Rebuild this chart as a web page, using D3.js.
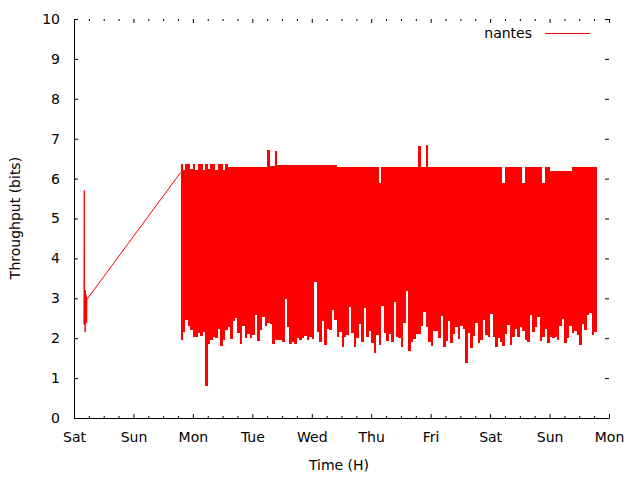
<!DOCTYPE html>
<html>
<head>
<meta charset="utf-8">
<script src="https://cdn.jsdelivr.net/npm/d3@7"></script>
<style>
  html, body { margin: 0; padding: 0; background: #ffffff; }
  svg { display: block; }
  text { font-family: "DejaVu Sans", sans-serif; font-size: 14px; fill: #000; }
</style>
</head>
<body>
<script>
// ---------------- data ----------------
const dayLabels = ["Sat", "Sun", "Mon", "Tue", "Wed", "Thu", "Fri", "Sat", "Sun", "Mon"];
const yTickValues = [0, 1, 2, 3, 4, 5, 6, 7, 8, 9, 10];
const seriesName = "nantes";

// Saturday burst and the gap line (hours since Sat 00:00, throughput)
const satHours  = [4.00, 4.15, 4.25, 4.40, 4.50, 4.60, 4.70, 4.80, 4.90, 5.00, 5.10, 5.20, 43.0];
const satValues = [2.35, 5.70, 2.33, 3.10, 2.15, 3.20, 2.40, 3.10, 2.38, 3.05, 2.40, 2.97, 6.15];

// Hourly samples (min / max) from Sun 19:00 onwards
const weekStartHour = 43;
const weekLow = [
  1.95, 2.16, 2.46, 2.30, 2.20, 2.04, 2.04, 2.12, 2.06, 2.16,
  0.80, 1.85, 1.95, 2.04, 2.00, 2.24, 1.80, 1.95, 2.20, 2.27,
  1.98, 2.44, 2.50, 2.12, 1.85, 2.30, 2.00, 2.10, 2.00, 2.08,
  2.59, 1.92, 2.20, 2.52, 2.30, 2.38, 2.35, 1.85, 1.95, 1.95,
  1.95, 1.90, 2.97, 2.27, 1.85, 1.90, 1.85, 2.00, 1.95, 2.00,
  2.06, 1.95, 2.04, 1.98, 3.42, 2.16, 1.90, 2.43, 1.84, 2.22,
  2.21, 2.71, 2.46, 2.02, 2.15, 1.77, 2.04, 2.08, 2.79, 2.14,
  1.77, 2.00, 2.35, 1.91, 2.76, 2.04, 2.18, 1.89, 1.63, 2.08,
  1.83, 2.81, 2.14, 1.93, 2.10, 1.91, 2.91, 2.04, 2.00, 1.79,
  2.37, 3.18, 1.68, 1.91, 1.97, 2.10, 2.10, 2.30, 2.66, 2.27,
  1.91, 1.80, 2.19, 2.17, 2.00, 2.56, 1.79, 1.93, 2.44, 1.87,
  2.10, 2.27, 1.98, 2.30, 2.24, 1.39, 2.12, 1.76, 2.05, 2.38,
  1.87, 1.95, 2.46, 2.08, 2.04, 2.61, 2.02, 1.79, 2.00, 1.91,
  1.80, 2.10, 2.33, 1.84, 2.04, 2.22, 2.02, 2.27, 2.19, 1.95,
  1.91, 2.58, 2.16, 2.29, 2.52, 1.93, 2.04, 2.22, 1.87, 2.02,
  2.00, 2.02, 1.95, 2.30, 2.48, 1.89, 2.00, 2.30, 2.14, 2.17,
  2.08, 1.83, 2.35, 2.21, 2.58, 2.62, 2.08, 2.16, 2.00
];
const weekHigh = [
  6.37, 6.22, 6.37, 6.37, 6.25, 6.37, 6.22, 6.36, 6.37, 6.22,
  6.37, 6.25, 6.37, 6.37, 6.22, 6.36, 6.37, 6.22, 6.37, 6.30,
  6.30, 6.30, 6.30, 6.30, 6.30, 6.30, 6.30, 6.30, 6.30, 6.30,
  6.30, 6.30, 6.30, 6.30, 6.30, 6.72, 6.32, 6.32, 6.68, 6.33,
  6.33, 6.33, 6.33, 6.33, 6.33, 6.33, 6.33, 6.33, 6.33, 6.33,
  6.33, 6.33, 6.33, 6.33, 6.33, 6.33, 6.33, 6.33, 6.33, 6.33,
  6.33, 6.33, 6.33, 6.30, 6.30, 6.30, 6.30, 6.30, 6.30, 6.30,
  6.30, 6.30, 6.30, 6.30, 6.30, 6.30, 6.30, 6.30, 6.30, 6.30,
  5.88, 6.30, 6.30, 6.30, 6.30, 6.30, 6.30, 6.30, 6.30, 6.30,
  6.30, 6.30, 6.30, 6.30, 6.30, 6.30, 6.81, 6.30, 6.30, 6.83,
  6.30, 6.30, 6.30, 6.30, 6.30, 6.30, 6.30, 6.30, 6.30, 6.30,
  6.30, 6.30, 6.30, 6.30, 6.30, 6.30, 6.30, 6.30, 6.30, 6.30,
  6.30, 6.30, 6.30, 6.30, 6.30, 6.30, 6.30, 6.30, 6.30, 6.30,
  5.88, 6.30, 6.30, 6.30, 6.30, 6.30, 6.30, 6.30, 5.90, 6.30,
  6.30, 6.30, 6.30, 6.30, 6.30, 6.30, 5.90, 6.30, 6.30, 6.19,
  6.19, 6.19, 6.19, 6.19, 6.19, 6.19, 6.19, 6.19, 6.30, 6.30,
  6.30, 6.30, 6.30, 6.30, 6.30, 6.30, 6.30, 6.30, 6.30
];

// ---------------- chart ----------------
const W = 640, H = 480;
const svg = d3.select("body").append("svg").attr("width", W).attr("height", H);

const x = d3.scaleLinear().domain([0, 216]).range([74, 609]);
const y = d3.scaleLinear().domain([0, 10]).range([418, 19]);

const red = "#ff0000";

// dense weekly block as min/max step area
const weekData = weekLow.map((lo, i) => ({ t: weekStartHour + i, lo: lo, hi: weekHigh[i] }));
const area = d3.area()
  .curve(d3.curveStepAfter)
  .x(d => x(d.t))
  .y0(d => y(d.lo))
  .y1(d => y(d.hi));
svg.append("path")
  .datum(weekData)
  .attr("d", area)
  .attr("fill", red)
  .attr("shape-rendering", "crispEdges");

// Saturday burst + connecting line
const satData = satHours.map((t, i) => ({ t: t, v: satValues[i] }));
const line = d3.line().x(d => x(d.t)).y(d => y(d.v));
svg.append("path")
  .datum(satData)
  .attr("d", line)
  .attr("fill", "none")
  .attr("stroke", red)
  .attr("stroke-width", 1);

// ---------------- axes ----------------
const dayTicks = dayLabels.map((_, i) => i * 24);
const minorTicks = d3.range(0, 217, 6).filter(h => h % 24 !== 0);

function styleAxis(g) {
  g.attr("font-family", null).attr("font-size", null);
  g.selectAll("line").attr("stroke", "#000");
  g.selectAll("path.domain").attr("stroke", "#000");
  g.selectAll("text").attr("fill", "#000");
}

// bottom major with labels
svg.append("g")
  .attr("transform", `translate(0,${y(0)})`)
  .call(d3.axisBottom(x).tickValues(dayTicks).tickFormat((d, i) => dayLabels[i])
        .tickSize(-4).tickSizeOuter(0).tickPadding(14))
  .call(styleAxis);
// bottom minor
svg.append("g")
  .attr("transform", `translate(0,${y(0)})`)
  .call(d3.axisBottom(x).tickValues(minorTicks).tickFormat("").tickSize(-2).tickSizeOuter(0))
  .call(g => g.select(".domain").remove())
  .call(styleAxis);
// top major & minor (mirror)
svg.append("g")
  .attr("transform", `translate(0,${y(10)})`)
  .call(d3.axisTop(x).tickValues(dayTicks).tickFormat("").tickSize(-4).tickSizeOuter(0))
  .call(g => g.select(".domain").remove())
  .call(styleAxis);
svg.append("g")
  .attr("transform", `translate(0,${y(10)})`)
  .call(d3.axisTop(x).tickValues(minorTicks).tickFormat("").tickSize(-2).tickSizeOuter(0))
  .call(g => g.select(".domain").remove())
  .call(styleAxis);
// left with labels
svg.append("g")
  .attr("transform", `translate(${x(0)},0)`)
  .call(d3.axisLeft(y).tickValues(yTickValues).tickFormat(d3.format("d"))
        .tickSize(-4).tickSizeOuter(0).tickPadding(14))
  .call(styleAxis);
// right mirror
svg.append("g")
  .attr("transform", `translate(${x(216)},0)`)
  .call(d3.axisRight(y).tickValues(yTickValues).tickFormat("").tickSize(-4).tickSizeOuter(0))
  .call(g => g.select(".domain").remove())
  .call(styleAxis);

// axis titles
svg.append("text")
  .attr("x", 339).attr("y", 465)
  .attr("text-anchor", "middle")
  .attr("dominant-baseline", "central")
  .text("Time (H)");
svg.append("text")
  .attr("transform", "translate(15,218) rotate(-90)")
  .attr("text-anchor", "middle")
  .attr("dominant-baseline", "central")
  .text("Throughput (bits)");

// legend
svg.append("text")
  .attr("x", 532).attr("y", 33)
  .attr("text-anchor", "end")
  .attr("dominant-baseline", "central")
  .text(seriesName);
svg.append("line")
  .attr("x1", 545).attr("x2", 590)
  .attr("y1", 33.5).attr("y2", 33.5)
  .attr("stroke", red).attr("stroke-width", 1);
</script>
</body>
</html>
